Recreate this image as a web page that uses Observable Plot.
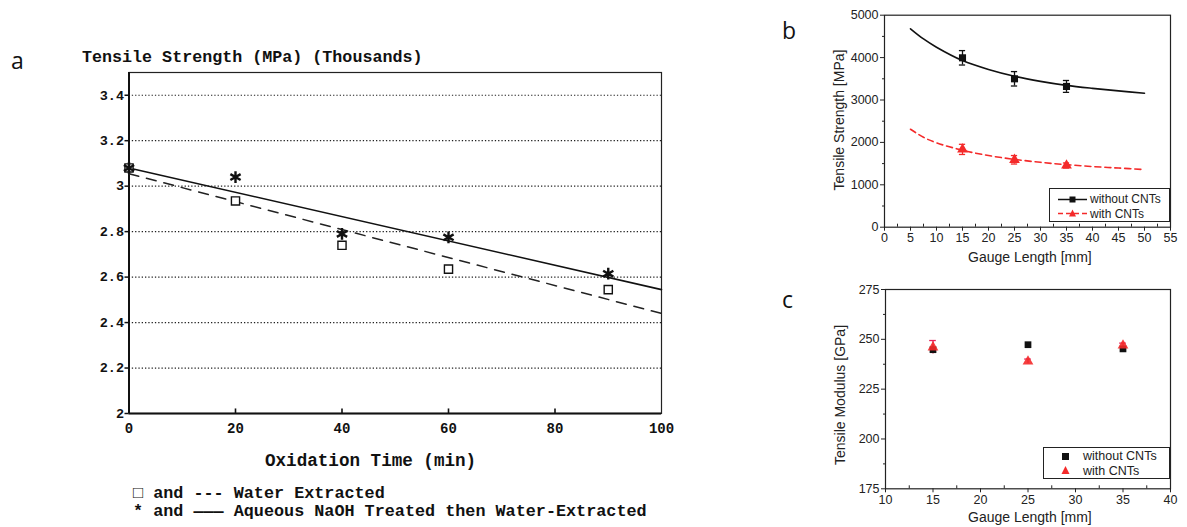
<!DOCTYPE html>
<html>
<head>
<meta charset="utf-8">
<script src="https://cdn.jsdelivr.net/npm/d3@7"></script>
<script src="https://cdn.jsdelivr.net/npm/@observablehq/plot@0.6"></script>
<style>
  body { margin: 0; background: #fff; }
  #root { position: relative; width: 1187px; height: 527px; background: #fff; overflow: hidden; }
  .abs { position: absolute; white-space: pre; }
  .mono { font-family: "Liberation Mono", "DejaVu Sans Mono", monospace; font-weight: bold; color: #111; }
  .sans { font-family: "Liberation Sans", Arial, sans-serif; color: #222; }
  .letter { font-family: "Open Sans", "Liberation Sans", sans-serif; font-size: 23px; color: #111; }
  svg { overflow: visible; }
  .legend { position: absolute; border: 1px solid #222; background: #fff; }
  .legend .row { position: absolute; left: 0; display: flex; align-items: center; font-family: "Liberation Sans", Arial, sans-serif; font-size: 12px; color: #222; }
</style>
</head>
<body>
<div id="root"></div>
<script>
// ---------- Panel a data ----------
const timeMin = [0, 20, 40, 60, 90];
const waterExtracted = [3.08, 2.935, 2.74, 2.635, 2.545];
const naohTreated = [3.08, 3.04, 2.79, 2.775, 2.615];
const fitTime = [0, 100];
const waterFit = [3.055, 2.44];
const naohFit = [3.08, 2.545];
const aYTicks = [2, 2.2, 2.4, 2.6, 2.8, 3, 3.2, 3.4];
const aGrid = [2.2, 2.4, 2.6, 2.8, 3, 3.2, 3.4];
const aXTicks = [0, 20, 40, 60, 80, 100];
const aInnerTicks = [20, 40, 60, 80];

// ---------- Panel b data ----------
const gauge = [15, 25, 35];
const noCntStrength = [3995, 3500, 3320];
const noCntStrengthErr = [170, 170, 140];
const cntStrength = [1835, 1590, 1455];
const cntStrengthErr = [120, 100, 60];
const curveGauge = [5, 7.5, 10, 15, 20, 25, 30, 35, 40, 45, 50];
const noCntCurve = [4680, 4440, 4245, 3930, 3720, 3560, 3440, 3345, 3275, 3215, 3160];
const cntCurve = [2310, 2120, 1990, 1815, 1690, 1600, 1530, 1475, 1430, 1395, 1360];
const bXTicks = [0, 5, 10, 15, 20, 25, 30, 35, 40, 45, 50, 55];
const bXMinor = [2.5, 7.5, 12.5, 17.5, 22.5, 27.5, 32.5, 37.5, 42.5, 47.5, 52.5];
const bYTicks = [0, 1000, 2000, 3000, 4000, 5000];
const bYMinor = [500, 1500, 2500, 3500, 4500];

// ---------- Panel c data ----------
const noCntModulus = [244.8, 247.3, 245.2];
const noCntModulusErr = [1.8, 0.6, 1.0];
const cntModulus = [246.0, 238.9, 246.9];
const cntModulusErr = [3.4, 1.2, 1.2];
const cXTicks = [10, 15, 20, 25, 30, 35, 40];
const cXMinor = [12.5, 17.5, 22.5, 27.5, 32.5, 37.5];
const cYTicks = [175, 200, 225, 250, 275];
const cYMinor = [187.5, 212.5, 237.5, 262.5];

const RED = "#f42a2a";
const root = document.getElementById("root");

function place(el, left, top) {
  el.style.position = "absolute";
  el.style.left = left + "px";
  el.style.top = top + "px";
  root.appendChild(el);
}
function text(cls, str, left, top, css = {}) {
  const d = document.createElement("div");
  d.className = "abs " + cls;
  d.textContent = str;
  d.style.left = left + "px";
  d.style.top = top + "px";
  Object.assign(d.style, css);
  root.appendChild(d);
  return d;
}

// ================= Panel a =================
const aPts = timeMin.map((t, i) => ({t, water: waterExtracted[i], naoh: naohTreated[i]}));
const aFit = fitTime.map((t, i) => ({t, water: waterFit[i], naoh: naohFit[i]}));

const plotA = Plot.plot({
  width: 700, height: 527,
  marginLeft: 128.5, marginRight: 39, marginTop: 72, marginBottom: 114,
  x: {domain: [0, 100]},
  y: {domain: [2, 3.5]},
  style: {fontFamily: "Liberation Mono, DejaVu Sans Mono, monospace", fontWeight: "bold", fontSize: "13.5px", color: "#111", background: "transparent"},
  marks: [
    Plot.ruleY(aGrid, {stroke: "#222", strokeWidth: 1.2, strokeDasharray: "1.3,2"}),
    Plot.frame({stroke: "#222", strokeWidth: 1.2}),
    Plot.ruleX([0], {stroke: "#111", strokeWidth: 2}),
    Plot.ruleY([2], {stroke: "#111", strokeWidth: 2}),
    Plot.ruleX(aInnerTicks, {y1: 2, y2: 2.02, stroke: "#111", strokeWidth: 1.6}),
    Plot.axisY(aYTicks, {tickSize: 4, tickPadding: 1, tickFormat: d => String(d), fontSize: 13.5, fontWeight: "bold", label: null, strokeWidth: 1.5}),
    Plot.axisX(aXTicks, {tickSize: 0, tickPadding: 10, tickFormat: d => String(d), fontSize: 14, fontWeight: "bold", label: null}),
    Plot.line(aFit, {x: "t", y: "naoh", stroke: "#111", strokeWidth: 1.6}),
    Plot.line(aFit, {x: "t", y: "water", stroke: "#222", strokeWidth: 1.5, strokeDasharray: "10,8"}),
    Plot.dot(aPts, {x: "t", y: "water", symbol: "square", r: 4.6, fill: "white", stroke: "#111", strokeWidth: 1.4}),
    Plot.dot(aPts, {x: "t", y: "naoh", symbol: "asterisk", r: 5.6, stroke: "#111", strokeWidth: 2.4})
  ]
});
place(plotA, 0, 0);

text("letter", "a", 11, 44);
text("mono", "Tensile Strength (MPa) (Thousands)", 82, 48, {fontSize: "16.7px"});
text("mono", "Oxidation Time (min)", 265, 451, {fontSize: "17.6px"});
text("mono", "\u25A1 and --- Water Extracted", 133, 484, {fontSize: "16.8px", lineHeight: "20px"});
text("mono", "* and \u2014\u2014\u2014 Aqueous NaOH Treated then Water-Extracted", 133, 502, {fontSize: "16.8px", lineHeight: "20px"});

// ================= Panel b =================
const bPts = gauge.map((g, i) => ({g, no: noCntStrength[i], noE: noCntStrengthErr[i], cnt: cntStrength[i], cntE: cntStrengthErr[i]}));
const bCurve = curveGauge.map((g, i) => ({g, no: noCntCurve[i], cnt: cntCurve[i]}));

const sansStyle = {fontFamily: "Liberation Sans, Arial, sans-serif", fontSize: "12.5px", color: "#222", background: "transparent"};

const plotB = Plot.plot({
  width: 407, height: 270,
  marginLeft: 104, marginRight: 17, marginTop: 14.7, marginBottom: 43.3,
  x: {domain: [0, 55]},
  y: {domain: [0, 5000]},
  style: sansStyle,
  marks: [
    Plot.frame({stroke: "#222", strokeWidth: 1.2}),
    Plot.axisX(bXTicks, {tickSize: 4, tickPadding: 2, label: null, fontSize: 12.5}),
    Plot.axisX(bXMinor, {tickSize: -3, tickFormat: () => "", label: null}),
    Plot.axisY(bYTicks, {tickSize: 4, tickPadding: 2, label: null, fontSize: 12.5, tickFormat: d => String(d)}),
    Plot.axisY(bYMinor, {tickSize: 2, tickFormat: () => "", label: null}),
    Plot.line(bCurve, {x: "g", y: "no", curve: "catmull-rom", stroke: "#111", strokeWidth: 1.6}),
    Plot.line(bCurve, {x: "g", y: "cnt", curve: "catmull-rom", stroke: RED, strokeWidth: 1.6, strokeDasharray: "6,4"}),
    Plot.ruleX(bPts, {x: "g", y1: d => d.no - d.noE, y2: d => d.no + d.noE, stroke: "#111", strokeWidth: 1.3}),
    Plot.ruleY(bPts, {y: d => d.no - d.noE, x1: d => d.g - 0.6, x2: d => d.g + 0.6, stroke: "#111", strokeWidth: 1.3}),
    Plot.ruleY(bPts, {y: d => d.no + d.noE, x1: d => d.g - 0.6, x2: d => d.g + 0.6, stroke: "#111", strokeWidth: 1.3}),
    Plot.ruleX(bPts, {x: "g", y1: d => d.cnt - d.cntE, y2: d => d.cnt + d.cntE, stroke: RED, strokeWidth: 1.3}),
    Plot.ruleY(bPts, {y: d => d.cnt - d.cntE, x1: d => d.g - 0.6, x2: d => d.g + 0.6, stroke: RED, strokeWidth: 1.3}),
    Plot.ruleY(bPts, {y: d => d.cnt + d.cntE, x1: d => d.g - 0.6, x2: d => d.g + 0.6, stroke: RED, strokeWidth: 1.3}),
    Plot.dot(bPts, {x: "g", y: "no", symbol: "square", r: 4, fill: "#111"}),
    Plot.dot(bPts, {x: "g", y: "cnt", symbol: "triangle", r: 4, fill: RED})
  ]
});
place(plotB, 780, 0);

text("letter", "b", 782, 14);
text("sans", "Gauge Length [mm]", 968, 249, {fontSize: "14px"});
text("sans", "Tensile Strength [MPa]", 839, 120, {fontSize: "14px", transform: "translate(-50%,-50%) rotate(-90deg)"});

// legend b
(function () {
  const lg = document.createElement("div");
  lg.className = "legend";
  lg.style.left = "1049px"; lg.style.top = "188px"; lg.style.width = "119px"; lg.style.height = "32px";
  const rows = [
    {label: "without CNTs", color: "#111", dash: null, sym: "square"},
    {label: "with CNTs", color: RED, dash: "5,3", sym: "triangle"}
  ];
  rows.forEach((r, i) => {
    const row = document.createElement("div");
    row.className = "row";
    row.style.top = (3 + i * 14.5) + "px";
    row.style.left = "8px";
    const glyph = r.sym === "square"
      ? `<rect x="11.5" y="3.5" width="6" height="6" fill="${r.color}"/>`
      : `<path d="M14.5,2.5 L18,9.5 L11,9.5 Z" fill="${r.color}"/>`;
    row.innerHTML = `<svg width="31" height="13" style="overflow:visible"><line x1="0" x2="29" y1="6.5" y2="6.5" stroke="${r.color}" stroke-width="1.5" ${r.dash ? `stroke-dasharray="${r.dash}"` : ""}/>${glyph}</svg><span style="margin-left:1px">${r.label}</span>`;
    lg.appendChild(row);
  });
  root.appendChild(lg);
})();

// ================= Panel c =================
const cPts = gauge.map((g, i) => ({g, no: noCntModulus[i], noE: noCntModulusErr[i], cnt: cntModulus[i], cntE: cntModulusErr[i]}));

const plotC = Plot.plot({
  width: 407, height: 247,
  marginLeft: 105, marginRight: 17, marginTop: 9, marginBottom: 38.7,
  x: {domain: [10, 40]},
  y: {domain: [175, 275]},
  style: sansStyle,
  marks: [
    Plot.frame({stroke: "#222", strokeWidth: 1.2}),
    Plot.axisX(cXTicks, {tickSize: 4, tickPadding: 2, label: null, fontSize: 12.5}),
    Plot.axisX(cXMinor, {tickSize: -3, tickFormat: () => "", label: null}),
    Plot.axisY(cYTicks, {tickSize: 4, tickPadding: 2, label: null, fontSize: 12.5}),
    Plot.axisY(cYMinor, {tickSize: 2, tickFormat: () => "", label: null}),
    Plot.ruleX(cPts, {x: "g", y1: d => d.cnt - d.cntE, y2: d => d.cnt + d.cntE, stroke: "#e8245a", strokeWidth: 1.3}),
    Plot.ruleY(cPts, {y: d => d.cnt + d.cntE, x1: d => d.g - 0.35, x2: d => d.g + 0.35, stroke: "#e8245a", strokeWidth: 1.3}),
    Plot.ruleX(cPts, {x: "g", y1: d => d.no - d.noE, y2: d => d.no + d.noE, stroke: "#111", strokeWidth: 1.3}),
    Plot.dot(cPts, {x: "g", y: "no", symbol: "square", r: 3.8, fill: "#111"}),
    Plot.dot(cPts, {x: "g", y: "cnt", symbol: "triangle", r: 4, fill: RED, fillOpacity: 0.9})
  ]
});
place(plotC, 780, 280);

text("letter", "c", 782, 283);
text("sans", "Gauge Length [mm]", 968, 509, {fontSize: "14px"});
text("sans", "Tensile Modulus [GPa]", 840, 395, {fontSize: "14px", transform: "translate(-50%,-50%) rotate(-90deg)"});

// legend c
(function () {
  const lg = document.createElement("div");
  lg.className = "legend";
  lg.style.left = "1043px"; lg.style.top = "447px"; lg.style.width = "125px"; lg.style.height = "30px";
  const rows = [
    {label: "without CNTs", color: "#111", sym: "square"},
    {label: "with CNTs", color: RED, sym: "triangle"}
  ];
  rows.forEach((r, i) => {
    const row = document.createElement("div");
    row.className = "row";
    row.style.top = (1 + i * 14.5) + "px";
    row.style.left = "15px";
    row.style.fontSize = "12.5px";
    const glyph = r.sym === "square"
      ? `<rect x="3" y="3" width="7" height="7" fill="${r.color}"/>`
      : `<path d="M6.5,2 L10.5,10 L2.5,10 Z" fill="${r.color}"/>`;
    row.innerHTML = `<svg width="13" height="13" style="overflow:visible">${glyph}</svg><span style="margin-left:11px">${r.label}</span>`;
    lg.appendChild(row);
  });
  root.appendChild(lg);
})();
</script>
</body>
</html>
